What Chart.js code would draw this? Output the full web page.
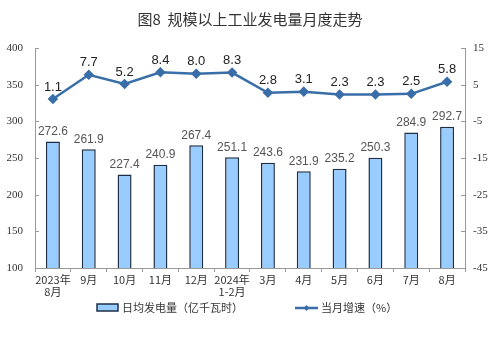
<!DOCTYPE html>
<html>
<head>
<meta charset="utf-8">
<style>
  body { margin: 0; background: #fff; }
  #wrap { position: relative; width: 499px; height: 337px; }
</style>
</head>
<body>
<div id="wrap"><canvas id="powerChart" width="499" height="337"></canvas></div>

<script src="https://cdn.jsdelivr.net/npm/chart.js"></script>
<script>
// Categories and values
const categories = [['2023年', '8月'], '9月', '10月', '11月', '12月', ['2024年', '1-2月'], '3月', '4月', '5月', '6月', '7月', '8月'];
const dailyOutput = [272.6, 261.9, 227.4, 240.9, 267.4, 251.1, 243.6, 231.9, 235.2, 250.3, 284.9, 292.7];
const growthRate = [1.1, 7.7, 5.2, 8.4, 8.0, 8.3, 2.8, 3.1, 2.3, 2.3, 2.5, 5.8];
const leftRange = [100, 400, 50];
const rightRange = [-45, 15, 10];

const chartTitle = '图8  规模以上工业发电量月度走势';
const barLabel = '日均发电量（亿千瓦时）';
const lineLabel = '当月增速（%）';

const BAR_FILL = '#99ccff';
const BAR_EDGE = '#1d2f45';
const LINE_COLOR = '#3a6ea8';
const CJK = '"Noto Sans CJK SC", "Noto Sans", sans-serif';
const SERIF = '"Liberation Serif", "DejaVu Serif", serif';

// value labels, title, legend and inward axis ticks
const decorations = {
    id: 'decorations',
    afterDatasetsDraw(chart) {
        const ctx = chart.ctx;
        ctx.save();
        ctx.textAlign = 'center';
        ctx.textBaseline = 'middle';

        // bar values
        ctx.font = '12px Arial, "Liberation Sans", sans-serif';
        ctx.fillStyle = '#555';
        chart.getDatasetMeta(0).data.forEach(function(bar, i) {
            ctx.fillText(dailyOutput[i].toFixed(1), bar.x, bar.y - 10);
        });

        // line values
        ctx.font = '13px Arial, "Liberation Sans", sans-serif';
        ctx.fillStyle = '#222';
        chart.getDatasetMeta(1).data.forEach(function(pt, i) {
            ctx.fillText(growthRate[i].toFixed(1), pt.x, pt.y - 12);
        });
        ctx.restore();
    },
    afterDraw(chart) {
        const ctx = chart.ctx;
        const area = chart.chartArea;
        ctx.save();

        // inward ticks on both value axes
        ctx.strokeStyle = '#999';
        ctx.lineWidth = 1;
        ['y', 'y1'].forEach(function(id) {
            const sc = chart.scales[id];
            sc.ticks.forEach(function(t) {
                const y = Math.round(sc.getPixelForValue(t.value)) + 0.5;
                ctx.beginPath();
                if (id === 'y') {
                    ctx.moveTo(area.left, y);
                    ctx.lineTo(area.left + 4, y);
                } else {
                    ctx.moveTo(area.right, y);
                    ctx.lineTo(area.right - 4, y);
                }
                ctx.stroke();
            });
        });

        // title
        ctx.fillStyle = '#333';
        ctx.font = '15px ' + CJK;
        ctx.textAlign = 'center';
        ctx.textBaseline = 'middle';
        ctx.fillText(chartTitle, 250, 19);

        // legend: bar swatch
        ctx.fillStyle = BAR_FILL;
        ctx.fillRect(97, 304, 21, 7);
        ctx.strokeStyle = BAR_EDGE;
        ctx.lineWidth = 1.5;
        ctx.strokeRect(97, 304, 21, 7);
        ctx.fillStyle = '#333';
        ctx.font = '11px ' + CJK;
        ctx.textAlign = 'left';
        ctx.fillText(barLabel, 122, 308);

        // legend: line with diamond
        ctx.strokeStyle = LINE_COLOR;
        ctx.lineWidth = 2.5;
        ctx.beginPath();
        ctx.moveTo(295, 308);
        ctx.lineTo(318, 308);
        ctx.stroke();
        ctx.fillStyle = LINE_COLOR;
        ctx.beginPath();
        ctx.moveTo(306.5, 305);
        ctx.lineTo(309.5, 308);
        ctx.lineTo(306.5, 311);
        ctx.lineTo(303.5, 308);
        ctx.closePath();
        ctx.fill();
        ctx.fillStyle = '#333';
        ctx.fillText(lineLabel, 321, 308);

        ctx.restore();
    }
};

new Chart(document.getElementById('powerChart'), {
    data: {
        labels: categories,
        datasets: [{
            type: 'bar',
            label: barLabel,
            data: dailyOutput,
            yAxisID: 'y',
            backgroundColor: BAR_FILL,
            borderColor: BAR_EDGE,
            borderWidth: 1.5,
            barPercentage: 0.78,
            categoryPercentage: 0.5,
            order: 2
        }, {
            type: 'line',
            label: lineLabel,
            data: growthRate,
            yAxisID: 'y1',
            borderColor: LINE_COLOR,
            backgroundColor: LINE_COLOR,
            borderWidth: 2.5,
            pointStyle: 'rectRot',
            pointRadius: 3.5,
            tension: 0,
            order: 1
        }]
    },
    options: {
        responsive: false,
        animation: false,
        layout: {
            padding: { top: 48, left: 0, right: 0, bottom: 0 }
        },
        plugins: {
            legend: { display: false },
            tooltip: { enabled: false }
        },
        scales: {
            x: {
                offset: true,
                grid: {
                    drawOnChartArea: false,
                    offset: true,
                    tickLength: 4,
                    color: '#999'
                },
                border: { color: '#999' },
                ticks: {
                    padding: 2,
                    maxRotation: 0,
                    autoSkip: false,
                    color: '#333',
                    font: { family: CJK, size: 11, lineHeight: 1.1 }
                },
                afterFit: function(scale) { scale.height = 69; }
            },
            y: {
                position: 'left',
                min: leftRange[0],
                max: leftRange[1],
                grid: { display: false },
                border: { color: '#999' },
                ticks: {
                    stepSize: leftRange[2],
                    padding: 4,
                    color: '#333',
                    font: { family: SERIF, size: 11 }
                },
                afterFit: function(scale) { scale.width = 35; }
            },
            y1: {
                position: 'right',
                min: rightRange[0],
                max: rightRange[1],
                grid: { display: false },
                border: { color: '#999' },
                ticks: {
                    stepSize: rightRange[2],
                    padding: 0,
                    color: '#333',
                    font: { family: SERIF, size: 11 }
                },
                afterFit: function(scale) { scale.width = 34; }
            }
        }
    },
    plugins: [decorations]
});
</script>
</body>
</html>
